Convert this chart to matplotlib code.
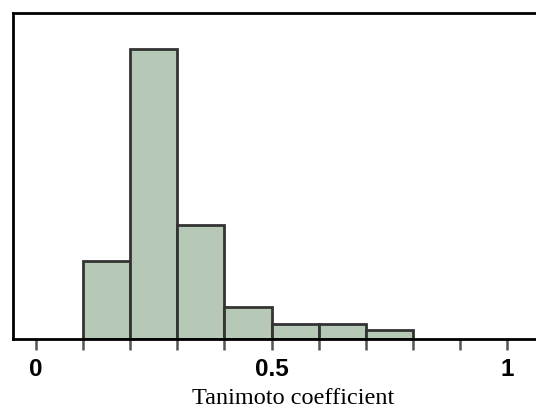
import matplotlib
matplotlib.use("Agg")
import matplotlib.pyplot as plt
import numpy as np

bin_edges = [0.1, 0.2, 0.3, 0.4, 0.5, 0.6, 0.7, 0.8]
counts = [78, 290, 114, 32, 15, 15, 9]
tick_labels = ["0", "0.5", "1"]

W, H = 536, 412
fig = plt.figure(figsize=(W / 100, H / 100), dpi=100)
x0_px, unit_px = 36, 471
left_px, top_px, bottom_px = 13, 13, 339
ax_w_px = 560
ax = fig.add_axes([left_px / W, (H - bottom_px) / H, ax_w_px / W, (bottom_px - top_px) / H])

lefts = np.array(bin_edges[:-1])
widths = np.diff(bin_edges)
ax.bar(lefts, counts, width=widths, align="edge", color="#b6c8b6",
       edgecolor="#333333", linewidth=2.0)

xmin = -(x0_px - left_px) / unit_px
ax.set_xlim(xmin, xmin + ax_w_px / unit_px)
ax.set_ylim(0, (bottom_px - top_px) * 1.0)

for s in ["left", "top", "bottom"]:
    ax.spines[s].set_linewidth(2.0)
    ax.spines[s].set_color("black")
ax.spines["right"].set_visible(False)

ax.set_yticks([])
ax.set_xticks([0, 0.5, 1])
ax.set_xticklabels(tick_labels, fontsize=17.5, fontweight="bold", family="Liberation Sans")
ax.set_xticks(np.arange(0, 1.01, 0.1), minor=True)
ax.tick_params(axis="x", which="both", direction="out", length=8, width=1.8,
               color="#555555", pad=6)
ax.set_xlabel("Tanimoto coefficient", fontsize=17.5, family="Liberation Serif", labelpad=5)

fig.savefig("out.png", dpi=100)
